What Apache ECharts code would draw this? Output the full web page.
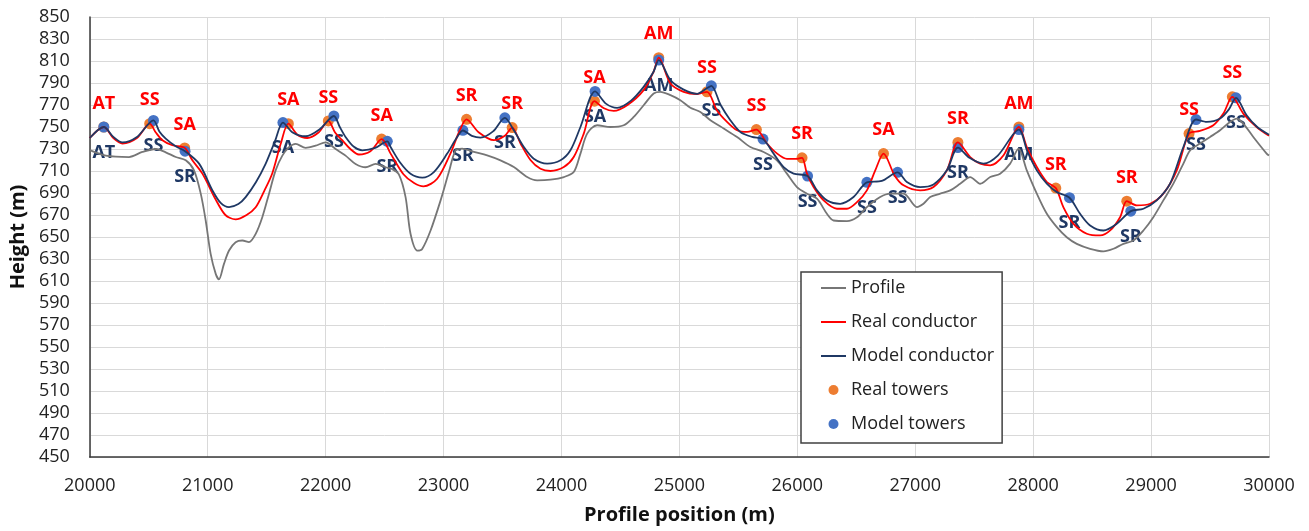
<!DOCTYPE html>
<html lang="en">
<head>
	<meta charset="UTF-8">
	<title>Profile and conductors</title>
	<style type="text/css">
		html, body { margin: 0; padding: 0; background: #fff; }
	</style>
</head>
<body>
     <div id="main" style="width:1309px;height:531px;"></div>
</body>
</html>
<script type="text/javascript" src="https://cdn.jsdelivr.net/npm/echarts@6/dist/echarts.min.js"></script>
<script type="text/javascript">
    // terrain profile
    var profileX = [20000,20136,20333,20446,20559,20644,20729,20814,20884,20941,20983,21025,21068,21095,21138,21181,21237,21294,21350,21407,21463,21520,21576,21633,21689,21746,21831,21915,22000,22085,22169,22254,22339,22424,22508,22560,22621,22678,22720,22777,22819,22890,22975,23045,23102,23158,23257,23370,23483,23596,23709,23794,23907,24020,24104,24161,24218,24302,24415,24528,24613,24697,24782,24839,24924,25008,25093,25178,25263,25376,25489,25602,25714,25827,25912,25997,26082,26167,26251,26308,26421,26506,26590,26703,26788,26901,27014,27070,27127,27212,27297,27381,27466,27551,27636,27720,27805,27876,27946,28031,28116,28201,28285,28370,28483,28596,28681,28765,28850,28935,29019,29104,29189,29274,29331,29415,29500,29585,29669,29726,29782,29867,29980,30000];
    var profileY = [729,724,722.7,727.3,730,727,722.7,719.7,710.6,689.4,665,634.7,616.5,611.5,625.6,637.7,645.3,646.8,645.3,652.9,668,689.4,710.6,724,731.6,734.6,731,733,736,730,724,716.4,713.4,716.4,713.4,712,707,686.3,652.9,637.7,639.2,655.9,683.3,709,728.8,730.3,727.3,724.3,719.7,713.6,704.5,701.5,702.1,704.5,709,725.8,744,751.6,750,751.6,759.2,769.8,780.5,782,779,774.4,767.5,763.7,756.2,748.6,740.9,731.8,727.3,719.7,707.6,695.4,689.4,684.8,671.1,665,664.4,668,677.2,686.3,689.4,689.4,677.2,680.2,686.3,689.4,692.4,698.4,704.5,698.4,704.5,707.6,716.7,730.3,710.6,689.4,671.1,659,649.8,643.8,639.3,637,639.3,643.8,646.8,655.9,668,683.3,698.5,716.7,728.8,734.9,740.9,747,754.6,757.7,753.1,740.9,725.8,724];

    // real conductor
    var realLineX = [20000,20119,20200,20277,20400,20508,20560,20616,20700,20805,20870,20955,21068,21150,21237,21330,21407,21480,21548,21620,21684,21760,21845,21940,22023,22080,22141,22210,22282,22380,22475,22550,22660,22750,22830,22946,23059,23130,23195,23300,23427,23520,23582,23653,23737,23822,23907,24020,24104,24189,24280,24360,24443,24560,24697,24780,24825,24924,25036,25150,25234,25319,25404,25489,25574,25653,25743,25827,25912,25997,26040,26082,26138,26223,26336,26421,26506,26590,26661,26731,26825,26901,27042,27155,27268,27362,27466,27551,27636,27749,27879,27946,28031,28116,28192,28257,28342,28455,28568,28653,28737,28794,28879,28992,29104,29218,29322,29415,29528,29613,29689,29782,29895,30000];
    var realLineY = [740,750,740,735,740,753,745,738,733.4,731,719.7,707.6,684,670,666,670,677,692,708,735,753,743,740,745,755.5,745,738,730,725,728,739,726,707,699,696,703,726,745,757,745,738,742,749.5,735,720,712,710,713.6,722.7,744,773.5,767,764.6,770,783.5,800,813,789.6,782,780,782,765,754.6,747,745.5,747.7,735,726,721,721,722,707.6,695.4,683.3,675.7,675.7,681.7,692.4,710.6,725.8,706,697,692.4,695.4,710.6,736,722.7,716.7,715.2,724.3,750,731.8,713.6,700,694.5,677,662,653,651.4,656,668,682.6,678.7,680.2,689.4,710.6,744,746.4,751.6,762.2,777.4,762.2,750,742];

    // model conductor
    var modelLineX = [20000,20119,20200,20277,20400,20540,20590,20644,20729,20808,20927,21040,21110,21181,21260,21322,21410,21492,21570,21638,21720,21831,21950,22070,22120,22169,22240,22311,22420,22523,22551,22630,22720,22820,22918,23031,23110,23164,23240,23314,23420,23520,23596,23681,23765,23879,23992,24076,24161,24285,24380,24472,24590,24697,24780,24825,24924,25036,25150,25230,25271,25350,25432,25517,25616,25709,25799,25884,25969,26087,26167,26251,26364,26477,26590,26717,26850,26929,27042,27155,27268,27362,27460,27579,27700,27879,27950,28031,28116,28201,28308,28398,28483,28596,28709,28828,28935,29048,29161,29274,29381,29472,29585,29660,29720,29810,29900,30000];
    var modelLineY = [740,750,741,736,741,756,746,739.5,732.5,728,716.7,692.4,681,677.2,680,686.3,700,716.7,737,754,745,741.6,748,760,750,741,732,728.8,731,737,731.8,718,707.6,704,709,725.8,740,746.8,742,740.4,746,758.3,747,731.8,721.2,716.7,719.7,728.8,750,782.3,771,767.4,774,786.5,800,810.8,792.6,784,780.2,785,787.4,770,756.2,745.5,741,739,725.8,713.6,707.6,705.4,692.4,683.3,680.2,686.3,699.7,701,708.8,700,695.4,697.8,710.6,731.3,722,716.7,724,747.7,728,710.6,698.5,690.8,685.7,671.1,660.5,655.9,662,673.5,675.7,683.3,698.5,731.8,756.8,754.6,757.7,766,776.5,760.7,750,743];

    // towers
    var realTowerX = [20119,20508,20805,21684,22023,22475,23195,23582,24280,24825,25234,25653,26040,26731,27362,27879,28192,28794,29322,29689];
    var realTowerY = [750,753,731,753,755.5,739,757,749.5,773.5,813,782,747.7,722,725.8,736,750,694.5,682.6,744,777.4];
    var realTowerType = ['AT','SS','SA','SA','SS','SA','SR','SR','SA','AM','SS','SS','SR','SA','SR','AM','SR','SR','SS','SS'];

    var modelTowerX = [20119,20540,20808,21638,22070,22523,23164,23520,24285,24825,25271,25709,26087,26590,26850,27362,27879,28308,28828,29381,29720];
    var modelTowerY = [750,756,728,754,760,737,747,758.3,782.3,810.8,787.4,739,705.4,699.7,708.8,731.3,747.7,685.7,673.5,756.8,776.5];
    var modelTowerType = ['AT','SS','SR','SA','SS','SR','SR','SR','SA','AM','SS','SS','SS','SS','SS','SR','AM','SR','SR','SS','SS'];

    var font = "'Open Sans', sans-serif";
    var lineIcon = 'path://M0,4L25,4L25,6L0,6Z';

    function pairs(xs, ys) {
        return xs.map(function (x, i) { return [x, ys[i]]; });
    }
    function triples(xs, ys, ts) {
        return xs.map(function (x, i) { return [x, ys[i], ts[i]]; });
    }

    var myChart = echarts.init(document.getElementById('main'));
    var option = {
        animation: false,
        backgroundColor: '#fff',
        grid: { left: 89, right: 40, top: 17, bottom: 74 },
        legend: {
            orient: 'vertical',
            left: 801, top: 272,
            itemWidth: 25, itemHeight: 10, itemGap: 16,
            padding: [7, 8, 10, 20],
            borderColor: '#404040', borderWidth: 1.5,
            backgroundColor: '#fff',
            textStyle: { fontFamily: font, fontSize: 18, color: '#222', lineHeight: 18 },
            data: [
                { name: 'Profile', icon: lineIcon },
                { name: 'Real conductor', icon: lineIcon },
                { name: 'Model conductor', icon: lineIcon },
                { name: 'Real towers', icon: 'circle' },
                { name: 'Model towers', icon: 'circle' }
            ]
        },
        xAxis: {
            type: 'value',
            min: 20000, max: 30000, interval: 1000,
            name: 'Profile position (m)',
            nameLocation: 'middle', nameGap: 48,
            nameTextStyle: { fontFamily: font, fontSize: 20, fontWeight: 'bold', color: '#111' },
            axisLine: { show: true, lineStyle: { color: '#3a3a3a', width: 1.5 } },
            axisTick: { show: false },
            axisLabel: {
                fontFamily: font, fontSize: 18, color: '#222', margin: 20,
                formatter: function (v) { return String(v); }
            },
            splitLine: { show: true, lineStyle: { color: '#d9d9d9', width: 1 } }
        },
        yAxis: {
            type: 'value',
            min: 450, max: 850, interval: 20,
            name: 'Height (m)',
            nameLocation: 'middle', nameGap: 60,
            nameTextStyle: { fontFamily: font, fontSize: 20, fontWeight: 'bold', color: '#111' },
            axisLine: { show: true, lineStyle: { color: '#3a3a3a', width: 1.5 } },
            axisTick: { show: false },
            axisLabel: { fontFamily: font, fontSize: 18, color: '#222', margin: 20 },
            splitLine: { show: true, lineStyle: { color: '#d9d9d9', width: 1 } }
        },
        series: [
            {
                name: 'Profile', type: 'line',
                data: pairs(profileX, profileY),
                symbol: 'none', smooth: 0.3,
                lineStyle: { color: '#767676', width: 1.8 },
                itemStyle: { color: '#767676' }
            },
            {
                name: 'Real conductor', type: 'line',
                data: pairs(realLineX, realLineY),
                symbol: 'none', smooth: 0.3,
                lineStyle: { color: '#ff0000', width: 1.8 },
                itemStyle: { color: '#ff0000' }
            },
            {
                name: 'Model conductor', type: 'line',
                data: pairs(modelLineX, modelLineY),
                symbol: 'none', smooth: 0.3,
                lineStyle: { color: '#1f3864', width: 1.8 },
                itemStyle: { color: '#1f3864' }
            },
            {
                name: 'Real towers', type: 'scatter',
                data: triples(realTowerX, realTowerY, realTowerType),
                symbolSize: 11,
                itemStyle: { color: '#ed7d31', opacity: 1 },
                label: {
                    show: true, position: 'top', distance: 9,
                    formatter: function (p) { return p.value[2]; },
                    fontFamily: font, fontSize: 18, fontWeight: 'bold', color: '#ff0000'
                }
            },
            {
                name: 'Model towers', type: 'scatter',
                data: triples(modelTowerX, modelTowerY, modelTowerType),
                symbolSize: 11,
                itemStyle: { color: '#4472c4', opacity: 1 },
                label: {
                    show: true, position: 'bottom', distance: 11,
                    formatter: function (p) { return p.value[2]; },
                    fontFamily: font, fontSize: 18, fontWeight: 'bold', color: '#1f3864'
                }
            }
        ]
    };
    myChart.setOption(option);
</script>
